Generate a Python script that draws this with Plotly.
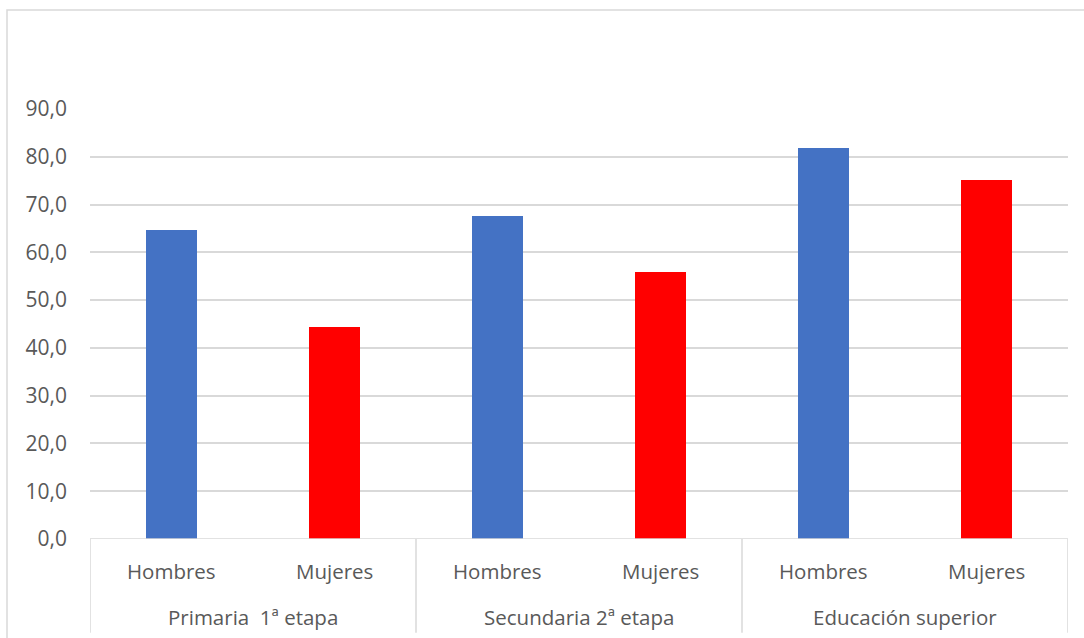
import plotly.graph_objects as go

# Datos
niveles = ["Primaria  1ª etapa", "Secundaria 2ª etapa", "Educación superior"]
sexos = ["Hombres", "Mujeres"]
hombres = [64.6, 67.6, 81.8]
mujeres = [44.3, 55.8, 75.2]
y_ticks = [0, 10, 20, 30, 40, 50, 60, 70, 80, 90]

AZUL = "#4472C4"
ROJO = "#FF0000"
GRIS_TXT = "#595959"
GRIS_LIN = "#D9D9D9"
FUENTE = "Open Sans"

# Posiciones de cada barra en el eje x (dos por nivel)
x_h = [2 * i for i in range(len(niveles))]
x_m = [2 * i + 1 for i in range(len(niveles))]
ancho = 0.315

fig = go.Figure()
fig.add_trace(go.Bar(x=x_h, y=hombres, width=ancho, marker=dict(color=AZUL, line=dict(width=0)), name="Hombres"))
fig.add_trace(go.Bar(x=x_m, y=mujeres, width=ancho, marker=dict(color=ROJO, line=dict(width=0)), name="Mujeres"))

n = 2 * len(niveles)

# Etiquetas del primer nivel (sexo)
for i in range(n):
    fig.add_annotation(x=i, y=-0.075, xref="x", yref="paper", text=sexos[i % 2],
                       showarrow=False, font=dict(family=FUENTE, size=20.5, color=GRIS_TXT),
                       xanchor="center", yanchor="middle")
# Etiquetas del segundo nivel (nivel educativo)
for j, nv in enumerate(niveles):
    fig.add_annotation(x=2 * j + 0.5, y=-0.182, xref="x", yref="paper", text=nv,
                       showarrow=False, font=dict(family=FUENTE, size=20.5, color=GRIS_TXT),
                       xanchor="center", yanchor="middle")

# Separadores verticales del eje de categorías
for k in range(len(niveles) + 1):
    fig.add_shape(type="line", x0=2 * k - 0.5, x1=2 * k - 0.5, y0=0, y1=-0.218,
                  xref="x", yref="paper", line=dict(color=GRIS_LIN, width=1.5))
# Línea base
fig.add_shape(type="line", x0=-0.5, x1=n - 0.5, y0=0, y1=0, xref="x", yref="y",
              line=dict(color=GRIS_LIN, width=1.5))

fig.update_layout(
    width=1084, height=638,
    margin=dict(l=90, r=16, t=109, b=99),
    plot_bgcolor="white", paper_bgcolor="white",
    showlegend=False, bargap=0,
    separators=",.",
    xaxis=dict(range=[-0.5, n - 0.5], showticklabels=False, showgrid=False,
               zeroline=False, showline=False, fixedrange=True),
    yaxis=dict(range=[0, 90], tickvals=y_ticks, tickformat=".1f",
               showgrid=True, gridcolor=GRIS_LIN, gridwidth=1.5,
               zeroline=False, showline=False, ticks="", ticklabelstandoff=22,
               tickfont=dict(family=FUENTE, size=21, color=GRIS_TXT)),
)

# Marco exterior del gráfico, en coordenadas de página
pw, ph = 1084 - 90 - 16, 638 - 109 - 99
def px_x(p):
    return (p - 90) / pw
def px_y(p):
    return (638 - 99 - p) / ph
fig.add_shape(type="rect", x0=px_x(7), x1=px_x(1090), y0=px_y(10), y1=px_y(645),
              xref="paper", yref="paper", line=dict(color=GRIS_LIN, width=1.5), layer="below")

fig.write_html("out.html")
